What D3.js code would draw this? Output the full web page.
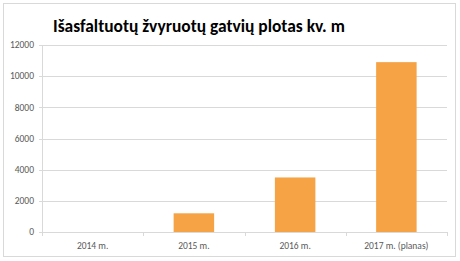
<!DOCTYPE html>
<html>
<head>
<meta charset="utf-8">
<script src="https://cdn.jsdelivr.net/npm/d3@7"></script>
<style>
  html, body { margin: 0; padding: 0; background: #fff; }
  svg { display: block; font-family: Calibri, Carlito, "Open Sans", "Liberation Sans", sans-serif; }
</style>
</head>
<body>
<div id="chart"></div>
<script>
var categories = ["2014 m.", "2015 m.", "2016 m.", "2017 m. (planas)"];
var values = [0, 1200, 3500, 10900];
var yTicks = [0, 2000, 4000, 6000, 8000, 10000, 12000];
var title = "Išasfaltuotų žvyruotų gatvių plotas kv. m";

var W = 460, H = 261;
var svg = d3.select("#chart").append("svg")
  .attr("width", W)
  .attr("height", H);

// chart frame
svg.append("rect")
  .attr("x", 3.5).attr("y", 3.5)
  .attr("width", 452).attr("height", 253)
  .attr("fill", "#fff")
  .attr("stroke", "#d9d9d9");

var plot = { left: 42, right: 447, top: 45, bottom: 232 };

var x = d3.scaleBand()
  .domain(categories)
  .range([plot.left, plot.right])
  .paddingInner(0.6)
  .paddingOuter(0.3);

var y = d3.scaleLinear()
  .domain([0, 12000])
  .range([plot.bottom, plot.top]);

// gridlines
svg.append("g")
  .selectAll("line")
  .data(yTicks)
  .enter()
  .append("line")
    .attr("x1", plot.left - 3)
    .attr("x2", plot.right)
    .attr("y1", function (d) { return Math.round(y(d)) + 0.5; })
    .attr("y2", function (d) { return Math.round(y(d)) + 0.5; })
    .attr("stroke", "#d9d9d9");

// y axis line
svg.append("line")
  .attr("x1", plot.left + 0.5).attr("x2", plot.left + 0.5)
  .attr("y1", plot.top).attr("y2", plot.bottom)
  .attr("stroke", "#d9d9d9");

// x category ticks
var bandEdges = categories.map(function (c) { return x(c) - x.step() * x.paddingInner() / 2; });
bandEdges.push(plot.right);
svg.append("g")
  .selectAll("line")
  .data(bandEdges)
  .enter()
  .append("line")
    .attr("x1", function (d) { return Math.round(d) + 0.5; })
    .attr("x2", function (d) { return Math.round(d) + 0.5; })
    .attr("y1", plot.bottom)
    .attr("y2", plot.bottom + 4)
    .attr("stroke", "#d9d9d9");

// y labels
svg.append("g")
  .selectAll("text")
  .data(yTicks)
  .enter()
  .append("text")
    .attr("x", plot.left - 8)
    .attr("y", function (d) { return y(d); })
    .attr("dy", "0.35em")
    .attr("text-anchor", "end")
    .style("font-size", "9.5px")
    .style("fill", "#595959")
    .text(function (d) { return d; });

// x labels
svg.append("g")
  .selectAll("text")
  .data(categories)
  .enter()
  .append("text")
    .attr("x", function (d) { return x(d) + x.bandwidth() / 2; })
    .attr("y", plot.bottom + 17)
    .attr("text-anchor", "middle")
    .style("font-size", "9.5px")
    .style("fill", "#595959")
    .text(function (d) { return d; });

// bars
svg.append("g")
  .selectAll("rect")
  .data(values)
  .enter()
  .append("rect")
    .attr("x", function (d, i) { return x(categories[i]); })
    .attr("y", function (d) { return y(d); })
    .attr("width", x.bandwidth())
    .attr("height", function (d) { return plot.bottom - y(d); })
    .attr("fill", "#f5a345");

// title
var t = svg.append("text")
  .attr("x", 53)
  .attr("y", 32)
  .style("font-size", "17px")
  .style("font-weight", "bold")
  .style("fill", "#000")
  .text(title);
var tw = t.node().getComputedTextLength();
t.style("font-size", (17 * 292 / tw) + "px");
</script>
</body>
</html>
